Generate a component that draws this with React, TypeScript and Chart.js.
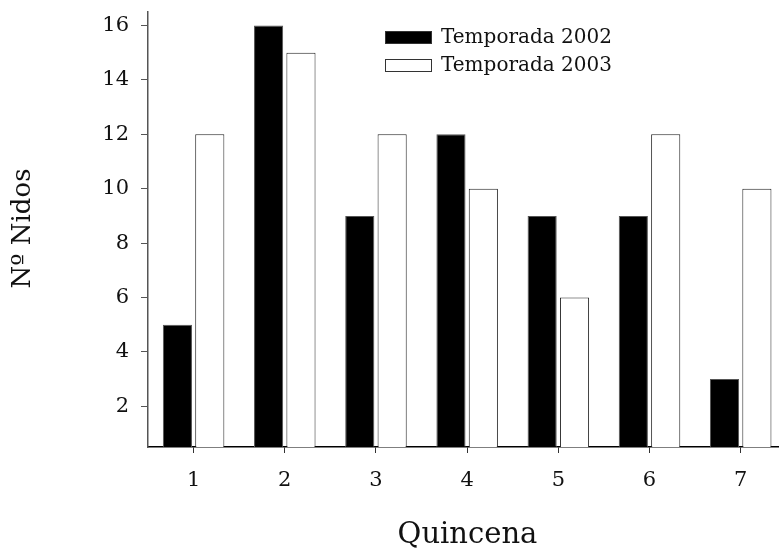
import React, { useEffect, useRef } from 'react';
import { Chart, registerables } from 'chart.js';

Chart.register(...registerables);

const quincenas = [1, 2, 3, 4, 5, 6, 7];
const temporada2002 = [5, 16, 9, 12, 9, 9, 3];
const temporada2003 = [12, 15, 12, 10, 6, 12, 10];
const yTickValues = [2, 4, 6, 8, 10, 12, 14, 16];
const seriesLabels = ['Temporada 2002', 'Temporada 2003'];
const xTitle = 'Quincena';
const yTitle = 'Nº Nidos';

const FONT = '"DejaVu Serif", serif';

const annotations = {
  id: 'annotations',
  afterDraw(chart: any) {
    const ctx = chart.ctx;
    const area = chart.chartArea;
    ctx.save();
    // legend
    const ds = chart.data.datasets;
    ctx.font = `20px ${FONT}`;
    ctx.textBaseline = 'middle';
    ctx.textAlign = 'left';
    ds.forEach((d: any, i: number) => {
      const y = 31 + i * 28;
      ctx.fillStyle = d.backgroundColor;
      ctx.fillRect(385.5, y + 0.5, 46, 12);
      ctx.strokeStyle = '#333';
      ctx.lineWidth = 1;
      ctx.strokeRect(385.5, y + 0.5, 46, 12);
      ctx.fillStyle = '#111';
      ctx.fillText(d.label, 441, y + 7);
    });
    // axis titles
    ctx.fillStyle = '#111';
    ctx.textAlign = 'center';
    ctx.font = `29px ${FONT}`;
    ctx.fillText(xTitle, (area.left + area.right) / 2 + 4, 535);
    ctx.font = `26px ${FONT}`;
    ctx.translate(23, (area.top + area.bottom) / 2 - 1);
    ctx.rotate(-Math.PI / 2);
    ctx.fillText(yTitle, 0, 0);
    ctx.restore();
  },
};

export default function App() {
  const ref = useRef<HTMLCanvasElement>(null);
  useEffect(() => {
    if (!ref.current) return;
    const chart = new Chart(ref.current, {
      type: 'bar',
      data: {
        datasets: [
          {
            label: seriesLabels[0],
            data: quincenas.map((q, i) => ({ x: q, y: temporada2002[i] })),
            backgroundColor: '#000000',
            borderColor: '#555555',
            borderWidth: 1,
          },
          {
            label: seriesLabels[1],
            data: quincenas.map((q, i) => ({ x: q, y: temporada2003[i] })),
            backgroundColor: '#ffffff',
            borderColor: '#222222',
            borderWidth: 1,
          },
        ],
      },
      options: {
        animation: false,
        responsive: false,
        maintainAspectRatio: false,
        categoryPercentage: 0.71,
        barPercentage: 0.9,
        layout: { padding: { top: 12, right: 0, left: 0, bottom: 0 } },
        plugins: { legend: { display: false }, tooltip: { enabled: false } },
        scales: {
          x: {
            type: 'linear',
            offset: false,
            min: 0.5,
            max: 7.42,
            afterBuildTicks: (s: any) => {
              s.ticks = quincenas.map((v) => ({ value: v }));
            },
            afterFit: (s: any) => {
              s.height = 103;
              s.paddingLeft = 0;
              s.paddingRight = 0;
            },
            grid: { drawOnChartArea: false, offset: false, tickLength: 6, color: '#333' },
            border: { color: '#000', width: 1.5 },
            ticks: {
              font: { family: FONT, size: 21 },
              color: '#111',
              padding: 15,
              autoSkip: false,
              maxRotation: 0,
              callback: (v: any) => String(v),
            },
          },
          y: {
            type: 'linear',
            min: 0.5,
            max: 16.5,
            afterBuildTicks: (s: any) => {
              s.ticks = yTickValues.map((v) => ({ value: v }));
            },
            afterFit: (s: any) => {
              s.width = 148;
              s.paddingTop = 0;
              s.paddingBottom = 0;
            },
            grid: { drawOnChartArea: false, tickLength: 7, color: '#555' },
            border: { color: '#555', width: 1.5 },
            ticks: {
              font: { family: FONT, size: 21 },
              color: '#111',
              padding: 12,
              callback: (v: any) => String(v),
            },
          },
        },
      },
      plugins: [annotations],
    });
    return () => chart.destroy();
  }, []);
  return (
    <div style={{ position: 'fixed', left: 0, top: 0, width: 779, height: 550, background: '#fff' }}>
      <canvas ref={ref} width={779} height={550} style={{ display: 'block' }} />
    </div>
  );
}
